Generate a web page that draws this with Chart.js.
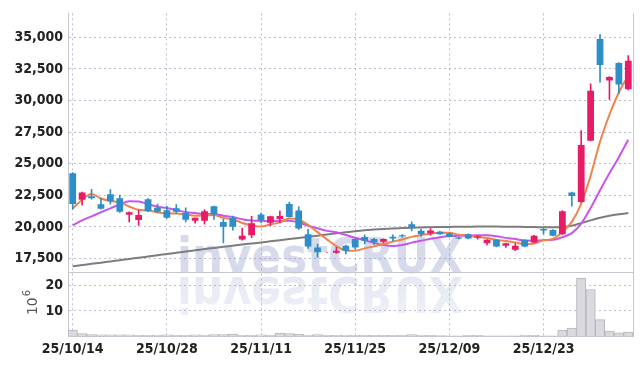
<!DOCTYPE html>
<html><head><meta charset="utf-8">
<script src="https://cdn.jsdelivr.net/npm/chart.js@4.4.1/dist/chart.umd.min.js"></script>
<style>html,body{margin:0;padding:0;background:#fff;}canvas{display:block;}</style>
</head><body>
<canvas id="c" width="642" height="366"></canvas>
<script>
const dates = ['25/10/14','25/10/15','25/10/16','25/10/17','25/10/20','25/10/21','25/10/22','25/10/23','25/10/24','25/10/27',
 '25/10/28','25/10/29','25/10/30','25/10/31','25/11/03','25/11/04','25/11/05','25/11/06','25/11/07','25/11/10',
 '25/11/11','25/11/12','25/11/13','25/11/14','25/11/17','25/11/18','25/11/19','25/11/20','25/11/21','25/11/24',
 '25/11/25','25/11/26','25/11/27','25/11/28','25/12/01','25/12/02','25/12/03','25/12/04','25/12/05','25/12/08',
 '25/12/09','25/12/10','25/12/11','25/12/12','25/12/15','25/12/16','25/12/17','25/12/18','25/12/19','25/12/22',
 '25/12/23','25/12/24','25/12/26','25/12/29','25/12/30','26/01/02','26/01/05','26/01/06','26/01/07','26/01/08'];
const openP = [24250,22160,22420,21800,22580,22265,20960,20550,22190,21510,
 21330,21480,21120,20490,20490,21640,20390,20730,19010,19350,
 20990,20340,20625,21820,21300,19430,18380,17990,17950,18515,
 19040,19200,19040,18830,19220,19350,20210,19690,19510,19610,
 19480,19160,19430,19140,18700,18980,18515,18200,18960,18775,
 19840,19765,19430,22730,21980,26820,34870,31590,32970,30900];
const highP = [24300,22760,22970,22290,22950,22520,21200,21330,22250,21800,
 21640,21770,21510,20730,21380,21660,20600,20860,19900,20840,
 21090,20860,21250,21950,21590,19820,18650,17990,18380,18560,
 19060,19375,19100,19060,19375,19400,20410,19820,19870,19650,
 19520,19200,19460,19300,19000,19000,18720,18700,19000,19330,
 19920,19800,21290,22750,27630,31330,35230,31900,33000,33570];
const lowP = [21400,21720,22190,21400,21800,21150,20390,20130,21200,21150,
 20680,21050,20390,20290,20210,20600,18730,19740,18960,19160,
 20340,20130,20340,20780,19800,18300,17600,17990,17900,17870,
 18250,18670,18570,18750,18900,19200,19690,19240,19350,19400,
 19200,19050,19060,19040,18570,18420,18380,18125,18420,18740,
 19430,19280,19400,21640,21950,26800,31460,30100,30570,30850];
const closeP = [21820,22730,22265,21430,22030,21195,21170,20940,21250,21200,
 20730,21200,20570,20730,21250,20990,20020,20020,19300,20290,
 20520,20840,20860,20780,19870,18460,17990,17990,18125,18125,
 18380,18900,18780,19040,19090,19240,19920,19430,19710,19430,
 19220,19090,19090,19240,18980,18460,18700,18515,18460,19300,
 19710,19300,21250,22445,26480,30780,32810,31875,31270,33150];
const volumeM = [2.4,1.0,0.6,0.5,0.5,0.5,0.5,0.3,0.3,0.4,
 0.5,0.3,0.3,0.5,0.4,0.6,0.6,0.8,0.3,0.3,
 0.5,0.3,1.2,1.0,0.7,0.4,0.6,0.3,0.3,0.4,
 0.3,0.3,0.3,0.3,0.3,0.3,0.6,0.4,0.3,0.2,
 0.1,0.1,0.3,0.3,0.1,0.1,0.1,0.1,0.4,0.3,
 0.1,0.1,2.4,3.2,23.0,18.5,6.5,2.0,1.3,1.6];
const ma5 = [21450,22150,22600,22250,22056,21931,21618,21353,21317,21151,
 21058,21064,20990,20886,20896,20948,20712,20602,20316,20124,
 20030,20194,20362,20658,20574,20162,19592,19018,18487,18138,
 18122,18304,18462,18645,18838,19010,19214,19344,19478,19546,
 19542,19376,19308,19214,19124,18972,18894,18779,18623,18687,
 18937,19057,19604,20401,21837,24051,26753,28878,30643,31979];
const ma10 = [20130,20520,20840,21160,21470,21780,22030,22010,21800,21603,
 21494,21341,21172,21102,21024,21003,20888,20796,20601,20510,
 20489,20453,20482,20487,20349,20096,19893,19690,19573,19356,
 19142,18948,18740,18566,18488,18566,18759,18903,19062,19192,
 19276,19295,19326,19346,19335,19257,19135,19044,18919,18906,
 18955,18976,19192,19512,20262,21494,22905,24241,25522,26907];
const ma60 = [16880,16980,17080,17170,17270,17370,17470,17560,17660,17760,
 17860,17950,18050,18150,18250,18340,18430,18520,18610,18690,
 18770,18860,18950,19040,19130,19220,19310,19400,19490,19580,
 19660,19730,19790,19840,19880,19910,19940,19960,19980,19990,
 20000,20010,20020,20030,20030,20030,20020,20010,20000,19990,
 19980,19970,20000,20100,20300,20520,20720,20880,21000,21100];
const priceTicks = [17500,20000,22500,25000,27500,30000,32500,35000];
const volumeTicks = [10,20];

const UP = 'rgb(232,28,102)', DOWN = 'rgb(46,142,200)';
const candleColor = closeP.map((c,i)=> c >= openP[i] ? UP : DOWN);
const gridColor = 'rgba(175,175,205,0.85)';
const axisColor = '#c6c6ce';
const tickFont = {family:'"Liberation Sans Narrow","DejaVu Sans Condensed",sans-serif', size:14, weight:'bold'};

const extras = {
  id:'extras',
  beforeDatasetsDraw(chart){
    const ctx = chart.ctx;
    ctx.save();
    const text = 'investCRUX';
    ctx.font = 'bold 50px "DejaVu Sans"';
    const w = ctx.measureText(text).width;
    const sx = 286 / w;
    const x0 = 177, base = 273;
    ctx.save();
    ctx.translate(x0, base);
    ctx.scale(sx, 1);
    ctx.textBaseline = 'alphabetic';
    ctx.fillStyle = 'rgba(140,152,200,0.36)';
    ctx.fillText(text, 0, 0);
    ctx.restore();
    ctx.save();
    ctx.translate(x0, base + 4);
    ctx.scale(sx, -1);
    const g = ctx.createLinearGradient(0, 0, 0, -45);
    g.addColorStop(0, 'rgba(150,160,205,0.24)');
    g.addColorStop(1, 'rgba(150,160,205,0.14)');
    ctx.fillStyle = g;
    ctx.fillText(text, 0, 0);
    ctx.restore();
    ctx.restore();
  },
  afterDraw(chart){
    const ctx = chart.ctx, a = chart.chartArea;
    const yv = chart.scales.yv;
    ctx.save();
    ctx.strokeStyle = axisColor; ctx.lineWidth = 1;
    ctx.beginPath();
    ctx.moveTo(a.left, Math.round(yv.top)+0.5); ctx.lineTo(a.right, Math.round(yv.top)+0.5);
    ctx.moveTo(Math.round(a.right)+0.5, a.top); ctx.lineTo(Math.round(a.right)+0.5, a.bottom);
    ctx.stroke();
    // 10^6 label
    const cy = (yv.top + yv.bottom) / 2;
    ctx.translate(37, cy + 11);
    ctx.rotate(-Math.PI/2);
    ctx.fillStyle = '#555';
    ctx.textBaseline = 'alphabetic';
    ctx.font = '14px "DejaVu Sans"';
    ctx.fillText('10', 0, 0);
    const w10 = ctx.measureText('10').width;
    ctx.font = '10px "DejaVu Sans"';
    ctx.fillText('6', w10 + 1, -7);
    ctx.restore();
  }
};

new Chart(document.getElementById('c'), {
  data: {
    labels: dates,
    datasets: [
      {type:'bar', label:'body', data: openP.map((o,i)=>[o, closeP[i]]), yAxisID:'y',
        backgroundColor: candleColor, borderWidth:0, grouped:false, barPercentage:0.72, categoryPercentage:1, order:0},
      {type:'bar', label:'wick', data: lowP.map((l,i)=>[l, highP[i]]), yAxisID:'y',
        backgroundColor: candleColor, borderWidth:0, grouped:false, barThickness:1, order:1},
      {type:'line', label:'MA5', data: ma5, yAxisID:'y', borderColor:'rgb(240,130,75)', borderWidth:2,
        pointRadius:0, cubicInterpolationMode:'monotone', order:3},
      {type:'line', label:'MA10', data: ma10, yAxisID:'y', borderColor:'rgb(200,85,235)', borderWidth:2,
        pointRadius:0, cubicInterpolationMode:'monotone', order:4},
      {type:'line', label:'MA60', data: ma60, yAxisID:'y', borderColor:'rgb(125,125,125)', borderWidth:2,
        pointRadius:0, cubicInterpolationMode:'monotone', order:5},
      {type:'bar', label:'vol', data: volumeM, yAxisID:'yv', backgroundColor:'#d9d9de', borderColor:'#b4b4bc',
        borderWidth:1, grouped:false, barPercentage:1, categoryPercentage:1, order:6}
    ]
  },
  options: {
    responsive:false, animation:false,
    layout:{padding:{left:0, right:9, top:10, bottom:0}},
    plugins:{legend:{display:false}, tooltip:{enabled:false}},
    scales:{
      x:{type:'category', offset:true,
        grid:{offset:false, drawTicks:false, color:(c)=> (c.index % 10 === 0 ? gridColor : 'rgba(0,0,0,0)'), lineWidth:1},
        border:{display:true, color:axisColor, dash:[2,3]},
        ticks:{autoSkip:false, maxRotation:0, padding:5, color:'#222', font:tickFont,
          callback:(v,i)=> (i % 10 === 0 ? dates[i] : '')},
        afterFit:(s)=>{ s.height = 30; }
      },
      yv:{type:'linear', position:'left', stack:'main', stackWeight:64.5, min:0, max:25.4,
        grid:{drawTicks:false, color:gridColor},
        border:{display:true, color:axisColor, dash:[2,3]},
        ticks:{padding:5, color:'#222', font:tickFont},
        afterBuildTicks:(ax)=>{ ax.ticks = volumeTicks.map(v=>({value:v})); },
        afterFit:(s)=>{ s.width = 68; }
      },
      y:{type:'linear', position:'left', stack:'main', stackWeight:261.5, min:16420, max:36900,
        grid:{drawTicks:false, color:gridColor},
        border:{display:true, color:axisColor, dash:[2,3]},
        ticks:{padding:5, color:'#222', font:tickFont, callback:(v)=> v.toLocaleString('en-US')},
        afterBuildTicks:(ax)=>{ ax.ticks = priceTicks.map(v=>({value:v})); },
        afterFit:(s)=>{ s.width = 68; }
      }
    }
  },
  plugins:[extras]
});
</script>
</body></html>
